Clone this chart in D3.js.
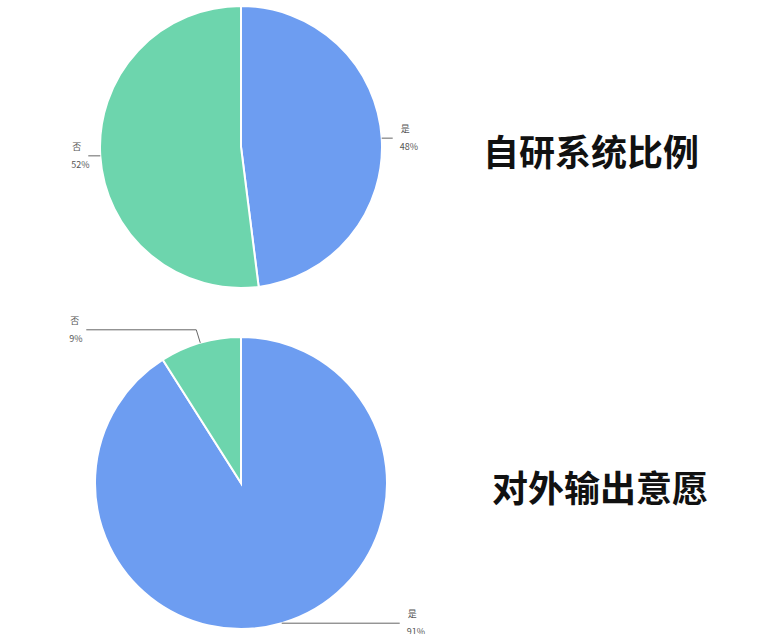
<!DOCTYPE html>
<html>
<head>
<meta charset="utf-8">
<script src="https://cdn.jsdelivr.net/npm/d3@7"></script>
<style>
  body { margin: 0; background: #fff; }
</style>
</head>
<body>
<div id="chart"><svg width="760" height="634"></svg></div>
<script>
const svg = d3.select("#chart svg");

// дані
const categories = ["是", "否"];
const selfDevValues = [48, 52];
const exportValues = [91, 9];
const titles = ["自研系统比例", "对外输出意愿"];
const colors = ["#6d9df1", "#6dd5ad"];

const color = d3.scaleOrdinal().domain(categories).range(colors);

// розміщення двох кругів
const charts = [
    { values: selfDevValues, title: titles[0], cx: 241, cy: 147, r: 141, tx: 483, ty: 150,
      leaders: [ { dx: 11, elbow: 0 }, { dx: -12, elbow: 0 } ] },
    { values: exportValues, title: titles[1], cx: 241, cy: 483, r: 146, tx: 492, ty: 486,
      leaders: [ { dx: 118, elbow: 0 }, { dx: -114, elbow: -13 } ] }
];

const pie = d3.pie().sort(null).value(d => d.value);

function drawPie(c) {
    const g = svg.append("g").attr("transform", `translate(${c.cx},${c.cy})`);
    const data = pie(categories.map((k, i) => ({ key: k, value: c.values[i] })));
    const arc = d3.arc().innerRadius(0).outerRadius(c.r);

    g.selectAll("path.slice")
        .data(data)
        .enter()
        .append("path")
        .attr("class", "slice")
        .attr("d", arc)
        .attr("fill", d => color(d.data.key))
        .attr("stroke", "#fff")
        .attr("stroke-width", 2);

    // підписи з лініями
    data.forEach((d, i) => {
        const mid = (d.startAngle + d.endAngle) / 2;
        const x0 = Math.sin(mid) * c.r;
        const y0 = -Math.cos(mid) * c.r;
        const lay = c.leaders[i];
        const y1 = y0 + lay.elbow;
        const x1 = x0 + (lay.elbow ? -4 : 0);
        const x2 = x0 + lay.dx;
        const pts = lay.elbow ? [[x0, y0], [x1, y1], [x2, y1]] : [[x0, y0], [x2, y1]];
        g.append("path")
            .attr("d", d3.line()(pts))
            .attr("fill", "none")
            .attr("stroke", "#666")
            .attr("stroke-width", 1);

        const tx = lay.dx > 0 ? x2 + 8 : x2 - 16;
        const total = d3.sum(c.values);
        g.append("text")
            .attr("x", tx)
            .attr("y", y1 - 6)
            .attr("font-size", "9px")
            .attr("font-family", "Noto Sans CJK SC, sans-serif")
            .attr("fill", "#555")
            .text(d.data.key);
        g.append("text")
            .attr("x", tx - 1)
            .attr("y", y1 + 12)
            .attr("font-size", "9px")
            .attr("font-family", "Noto Sans CJK SC, sans-serif")
            .attr("fill", "#555")
            .text(Math.round(d.data.value / total * 100) + "%");
    });

    svg.append("text")
        .attr("x", c.tx)
        .attr("y", c.ty)
        .attr("dominant-baseline", "central")
        .attr("font-size", "36px")
        .attr("font-weight", "bold")
        .attr("font-family", "Noto Sans CJK SC, sans-serif")
        .attr("fill", "#111")
        .text(c.title);
}

charts.forEach(drawPie);
</script>
</body>
</html>
